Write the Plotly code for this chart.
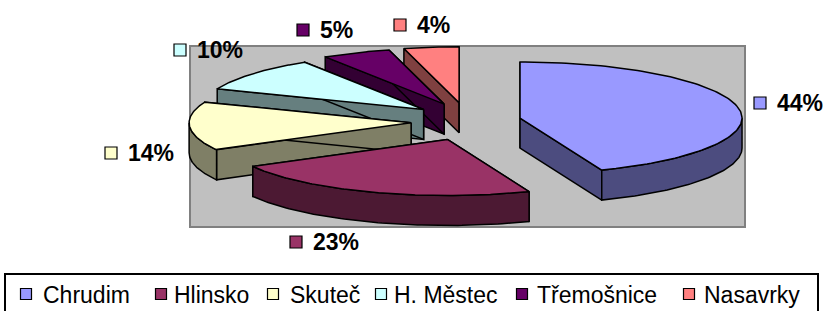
import numpy as np
import plotly.graph_objects as go

# ---------------- data ----------------
categories = ["Chrudim", "Hlinsko", "Skuteč", "H. Městec", "Třemošnice", "Nasavrky"]
values = [44, 23, 14, 10, 5, 4]
top_colors = ["#9999FF", "#993366", "#FFFFCC", "#CCFFFF", "#660066", "#FF8080"]

# ---------------- layout / geometry (pixel space) ----------------
W, H = 827, 311
CX, CY = 466, 121.6      # common pie centre
RX, RY = 222, 56         # ellipse radii of the tilted pie
DEPTH = 30               # thickness of the pie
EX, EY = 55, 19          # explosion offset
LABEL_POS = [(760, 103), (296, 242), (111, 153), (180, 50), (303, 30), (400, 25)]  # label square centres
LEGEND_SQ_X = [26, 161, 273, 381, 522, 689]     # legend square centres
LEGEND_TXT_X = [41, 172, 288, 392, 535, 702]    # legend text starts
LEGEND_Y = 294
FONT = "Arial, Liberation Sans, sans-serif"


def darker(hexcol, f=0.5):
    h = hexcol.lstrip("#")
    r, g, b = (int(h[i:i + 2], 16) for i in (0, 2, 4))
    return "#%02X%02X%02X" % (int(r * f), int(g * f), int(b * f))


side_colors = [darker(c) for c in top_colors]


def rim(tx, ty, th_deg):
    t = np.radians(th_deg)
    return tx + RX * np.sin(t), ty - RY * np.cos(t)


fig = go.Figure()

total = float(sum(values))
slices = []
cum = 0.0
for i, v in enumerate(values):
    a0 = cum / total * 360.0
    a1 = (cum + v) / total * 360.0
    cum += v
    mid = np.radians((a0 + a1) / 2)
    tx = CX + EX * np.sin(mid)
    ty = CY - EY * np.cos(mid)
    key = ty - RY * np.cos(mid) * 0.6
    slices.append((key, i, a0, a1, tx, ty))

slices.sort(key=lambda s: s[0])


def poly(xs, ys, fill, name):
    fig.add_trace(go.Scatter(
        x=list(xs) + [xs[0]], y=list(ys) + [ys[0]], mode="lines", fill="toself",
        fillcolor=fill, line=dict(color="black", width=1.5),
        hoverinfo="skip", showlegend=False, name=name))


for key, i, a0, a1, tx, ty in slices:
    name = categories[i]
    # radial cut faces
    for a in (a0, a1):
        rx_, ry_ = rim(tx, ty, a)
        poly([tx, rx_, rx_, tx], [ty, ry_, ry_ + DEPTH, ty + DEPTH], side_colors[i], name)
    # outer curved side (front half only)
    lo, hi = max(a0, 90.0), min(a1, 270.0)
    if lo < hi:
        th = np.linspace(lo, hi, 80)
        xs, ys = rim(tx, ty, th)
        px = np.concatenate([xs, xs[::-1]])
        py = np.concatenate([ys, (ys + DEPTH)[::-1]])
        poly(px, py, side_colors[i], name)
    # top face
    th = np.linspace(a0, a1, 120)
    xs, ys = rim(tx, ty, th)
    poly(np.concatenate([[tx], xs]), np.concatenate([[ty], ys]), top_colors[i], name)

# data labels: coloured square + bold percentage
for i, v in enumerate(values):
    lx, ly = LABEL_POS[i]
    fig.add_trace(go.Scatter(
        x=[lx], y=[ly], mode="markers",
        marker=dict(symbol="square", size=12, color=top_colors[i], line=dict(color="black", width=1.2)),
        hoverinfo="skip", showlegend=False))
    fig.add_annotation(x=lx + 15, y=ly, xref="x", yref="y", text="<b>%d%%</b>" % round(v / total * 100),
                       showarrow=False, xanchor="left", yanchor="middle",
                       font=dict(family=FONT, size=23, color="black"))

# legend (box + coloured squares + names)
fig.add_shape(type="rect", x0=5, y0=274, x1=818, y1=316, xref="x", yref="y",
              fillcolor="white", line=dict(color="black", width=2), layer="below")
fig.add_trace(go.Scatter(
    x=LEGEND_SQ_X, y=[LEGEND_Y] * len(categories), mode="markers",
    marker=dict(symbol="square", size=11, color=top_colors, line=dict(color="black", width=1.2)),
    hoverinfo="skip", showlegend=False))
for i, c in enumerate(categories):
    fig.add_annotation(x=LEGEND_TXT_X[i], y=LEGEND_Y + 1, xref="x", yref="y", text=c,
                       showarrow=False, xanchor="left", yanchor="middle",
                       font=dict(family=FONT, size=23, color="black"))

# grey plot area
fig.add_shape(type="rect", x0=190, y0=46, x1=745, y1=227, xref="x", yref="y",
              fillcolor="#C0C0C0", line=dict(color="#808080", width=2), layer="below")

fig.update_layout(
    width=W, height=H,
    margin=dict(l=0, r=0, t=0, b=0),
    paper_bgcolor="white", plot_bgcolor="white",
    xaxis=dict(range=[0, W], visible=False, fixedrange=True),
    yaxis=dict(range=[H, 0], visible=False, fixedrange=True),
    font=dict(family=FONT, color="black"),
    showlegend=False,
)

fig.write_html("out.html", config={"displayModeBar": False},
               post_script="document.body.style.margin='0';document.body.style.overflow='hidden';")
